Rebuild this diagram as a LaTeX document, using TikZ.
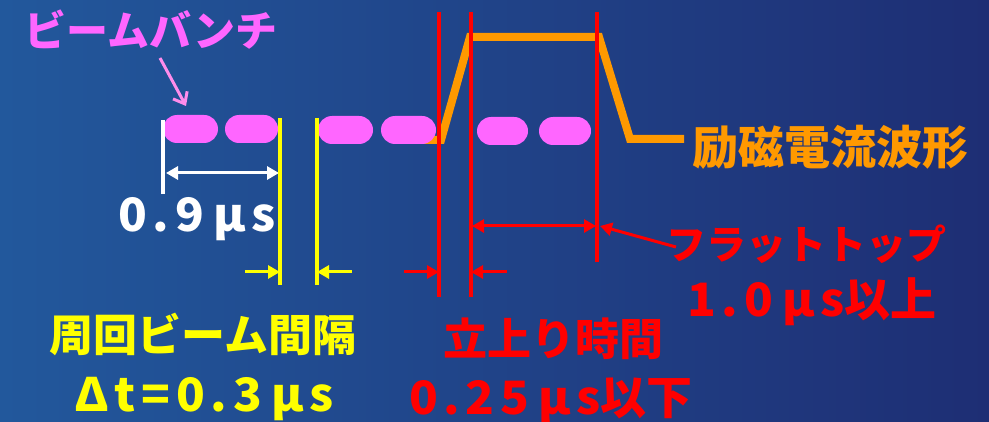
\documentclass[tikz,border=0pt]{standalone}
\usepackage{fontspec}
\newfontfamily\jp{Noto Sans CJK JP}
\usetikzlibrary{arrows.meta,shapes.misc}
\definecolor{bgA}{RGB}{34,88,156}
\definecolor{bgB}{RGB}{30,46,116}
\definecolor{pinkB}{RGB}{255,102,255}
\definecolor{pinkA}{RGB}{255,140,235}
\definecolor{orangeW}{RGB}{255,153,0}
\definecolor{redL}{RGB}{255,0,0}
\definecolor{yellowL}{RGB}{255,255,0}
\newcommand\ks{\kern0.12em}
\newcommand\km{\kern0.2em}
\newcommand\lat[1]{\scalebox{1.03}[1]{#1}}
\begin{document}
\begin{tikzpicture}[x=1pt,y=-1pt,
  bunch/.style={rounded rectangle, fill=pinkB, minimum width=55pt, minimum height=28pt, inner sep=0pt},
  vline/.style={line width=3.5pt},
  tip/.tip={Triangle[length=12pt,width=13pt]},
  dimarrow/.style={line width=3pt, -tip},
  dimboth/.style={line width=3pt, tip-tip},
  lbl/.style={inner sep=0pt, font=\jp\bfseries},
]
\useasboundingbox (0,0) rectangle (989,422);
\shade[left color=bgA, right color=bgB] (0,0) rectangle (989,422);

% excitation current waveform
\coordinate (o0) at (396,140);
\coordinate (o1) at (441,140);
\coordinate (o2) at (470,37);
\coordinate (o3) at (599,37);
\coordinate (o4) at (630,139);
\coordinate (o5) at (684,139);
\draw[orangeW, line width=8pt, line join=miter] (o0) -- (o1) -- (o2) -- (o3) -- (o4) -- (o5);

% beam bunches
\node[bunch] (b1) at (190.5,129) {};
\node[bunch, minimum width=53pt] (b2) at (251.5,129) {};
\node[bunch] (b3) at (345.5,130) {};
\node[bunch] (b4) at (408.5,130) {};
\node[bunch, minimum width=51pt] (b5) at (502.5,131) {};
\node[bunch, minimum width=52pt] (b6) at (565,131) {};

% white
\coordinate (w1t) at (163,120);
\coordinate (w1b) at (163,194);
\draw[white, vline] (w1t) -- (w1b);
\coordinate (wa1) at (166,173);
\coordinate (wa2) at (279,173);
\draw[white, dimboth] (wa1) -- (wa2);

% yellow
\coordinate (y1t) at (280,118);
\coordinate (y1b) at (280,285);
\coordinate (y2t) at (317,118);
\coordinate (y2b) at (317,285);
\draw[yellowL, vline] (y1t) -- (y1b);
\draw[yellowL, vline] (y2t) -- (y2b);
\coordinate (ya1) at (245,272);
\coordinate (ya1e) at (280,272);
\coordinate (ya2) at (352,272);
\coordinate (ya2e) at (317,272);
\draw[yellowL, dimarrow] (ya1) -- (ya1e);
\draw[yellowL, dimarrow] (ya2) -- (ya2e);

% red
\coordinate (r1t) at (439,12);
\coordinate (r1b) at (439,297);
\coordinate (r2t) at (471,12);
\coordinate (r2b) at (471,297);
\coordinate (r3t) at (597,12);
\coordinate (r3b) at (597,262);
\draw[redL, vline] (r1t) -- (r1b);
\draw[redL, vline] (r2t) -- (r2b);
\draw[redL, vline] (r3t) -- (r3b);
\coordinate (ra1) at (404,272);
\coordinate (ra1e) at (439,272);
\coordinate (ra2) at (507,272);
\coordinate (ra2e) at (471,272);
\draw[redL, dimarrow] (ra1) -- (ra1e);
\draw[redL, dimarrow] (ra2) -- (ra2e);
\coordinate (fa1) at (472,226);
\coordinate (fa2) at (596,226);
\draw[redL, dimboth] (fa1) -- (fa2);
\coordinate (fp1) at (676,247);
\coordinate (fp2) at (600,226);
\draw[redL, dimarrow] (fp1) -- (fp2);

% pink pointer
\coordinate (pa1) at (160,58);
\coordinate (pa2) at (186,106);
\draw[pinkA, line width=3pt, -{Straight Barb[length=10pt,width=16pt,line width=3pt]}] (pa1) -- (pa2);

% texts
\node[lbl, text=pinkB, font=\jp\bfseries\fontsize{42}{48}\selectfont] (tbunch) at (151,30) {ビームバンチ};
\node[lbl, text=white, font=\jp\bfseries\fontsize{46}{52}\selectfont] (t09) at (197,219) {\lat{0\ks.\ks9\km μ\ks s}};
\node[lbl, text=yellowL, font=\jp\bfseries\fontsize{44}{50}\selectfont] (tgap) at (203,334) {周回ビーム間隔};
\node[lbl, text=yellowL, font=\jp\bfseries\fontsize{46}{52}\selectfont] (tdt) at (204,399) {\lat{Δ\ks t\ks=\ks 0\ks.\ks3\km μ\ks s}};
\node[lbl, text=redL, font=\jp\bfseries\fontsize{44}{50}\selectfont] (trise) at (553,339) {立上り時間};
\node[lbl, text=redL, font=\jp\bfseries\fontsize{46}{52}\selectfont] (trisev) at (551,401) {\lat{0\ks.\ks2\ks5\km μ\ks s}以下};
\node[lbl, text=orangeW, font=\jp\bfseries\fontsize{46}{52}\selectfont] (twave) at (830,147) {励磁電流波形};
\node[lbl, text=redL, font=\jp\bfseries\fontsize{40}{46}\selectfont] (tflat) at (806,244) {フラットトップ};
\node[lbl, text=redL, font=\jp\bfseries\fontsize{46}{52}\selectfont] (tflatv) at (812,302) {\lat{1\ks.\ks0\km μ\ks s}以上};
\end{tikzpicture}
\end{document}
